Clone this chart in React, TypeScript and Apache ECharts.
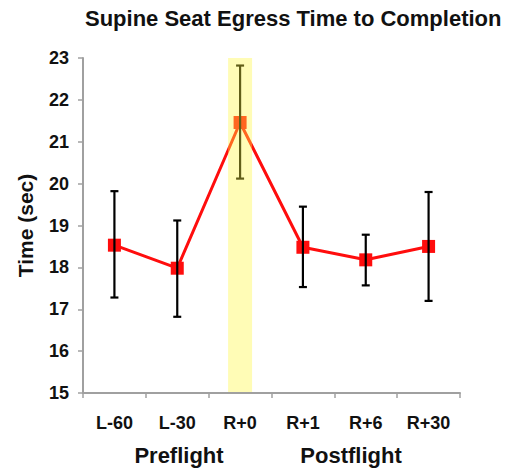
import React, { useEffect, useRef } from "react";
import * as echarts from "echarts";

const categories = ["L-60", "L-30", "R+0", "R+1", "R+6", "R+30"];
const means = [18.53, 17.98, 21.46, 18.48, 18.18, 18.5];
const errLow = [17.28, 16.82, 20.12, 17.53, 17.57, 17.2];
const errHigh = [19.82, 19.12, 22.82, 19.45, 18.78, 19.8];
const highlightIndex = [2];
const groupLabels = ["Preflight", "Postflight"];
const yTicks = { min: 15, max: 23, interval: 1 };

const FONT = "Liberation Sans, Arial, sans-serif";

export default function App() {
  const ref = useRef<HTMLDivElement>(null);
  useEffect(() => {
    if (!ref.current) return;
    const chart = echarts.init(ref.current, null, { renderer: "svg" });
    const option: any = {
      animation: false,
      backgroundColor: "#ffffff",
      title: {
        text: "Supine Seat Egress Time to Completion",
        left: 85,
        top: 7,
        padding: 0,
        textStyle: { fontFamily: FONT, fontWeight: "bold", fontSize: 22, color: "#111" },
      },
      grid: { left: 83, right: 48, top: 58, bottom: 77 },
      xAxis: {
        type: "category",
        data: categories,
        boundaryGap: true,
        axisLine: { lineStyle: { color: "#a0a0a0", width: 2 } },
        axisTick: { show: true, length: 5, lineStyle: { color: "#a0a0a0", width: 1.5 } },
        axisLabel: { fontFamily: FONT, fontWeight: "bold", fontSize: 18, color: "#111", margin: 21 },
        splitLine: { show: false },
      },
      yAxis: {
        type: "value",
        min: yTicks.min,
        max: yTicks.max,
        interval: yTicks.interval,
        name: "Time (sec)",
        nameLocation: "middle",
        nameGap: 47,
        nameRotate: 90,
        nameTextStyle: { fontFamily: FONT, fontWeight: "bold", fontSize: 21, color: "#111" },
        axisLine: { show: true, lineStyle: { color: "#a0a0a0", width: 2 } },
        axisTick: { show: true, length: 5, lineStyle: { color: "#a0a0a0", width: 1.5 } },
        axisLabel: { fontFamily: FONT, fontWeight: "bold", fontSize: 18, color: "#111", margin: 14 },
        splitLine: { show: false },
      },
      series: [
        {
          type: "line",
          data: means,
          z: 3,
          symbol: "rect",
          symbolSize: 13,
          lineStyle: { color: "#ff0d0d", width: 3 },
          itemStyle: { color: "#ff0d0d" },
        },
        {
          type: "custom",
          z: 4,
          data: categories.map((_, i) => [i, errLow[i], errHigh[i]]),
          renderItem: (params: any, api: any) => {
            const i = api.value(0);
            const lo = api.coord([i, api.value(1)]);
            const hi = api.coord([i, api.value(2)]);
            const cap = 4;
            const style = { stroke: "#000", lineWidth: 2.2 };
            return {
              type: "group",
              children: [
                { type: "line", shape: { x1: lo[0], y1: lo[1], x2: hi[0], y2: hi[1] }, style },
                { type: "line", shape: { x1: hi[0] - cap, y1: hi[1], x2: hi[0] + cap, y2: hi[1] }, style },
                { type: "line", shape: { x1: lo[0] - cap, y1: lo[1], x2: lo[0] + cap, y2: lo[1] }, style },
              ],
            };
          },
        },
        {
          type: "custom",
          z: 10,
          silent: true,
          data: highlightIndex.map((i) => [i, yTicks.min, yTicks.max]),
          renderItem: (params: any, api: any) => {
            const i = api.value(0);
            const bottom = api.coord([i, api.value(1)]);
            const top = api.coord([i, api.value(2)]);
            const w = 24;
            return {
              type: "rect",
              shape: { x: top[0] - w / 2, y: top[1], width: w, height: bottom[1] - top[1] - 1 },
              style: { fill: "rgba(255,248,62,0.38)" },
            };
          },
        },
      ],
      graphic: [
        {
          type: "text",
          x: 179,
          y: 455,
          style: {
            text: groupLabels[0],
            fontFamily: FONT,
            fontWeight: "bold",
            fontSize: 22,
            fill: "#111",
            align: "center",
            verticalAlign: "middle",
          },
        },
        {
          type: "text",
          x: 351,
          y: 455,
          style: {
            text: groupLabels[1],
            fontFamily: FONT,
            fontWeight: "bold",
            fontSize: 22,
            fill: "#111",
            align: "center",
            verticalAlign: "middle",
          },
        },
      ],
    };
    chart.setOption(option);
    return () => chart.dispose();
  }, []);
  return (
    <div
      ref={ref}
      style={{ position: "fixed", left: 0, top: 0, width: 508, height: 470 }}
    />
  );
}
